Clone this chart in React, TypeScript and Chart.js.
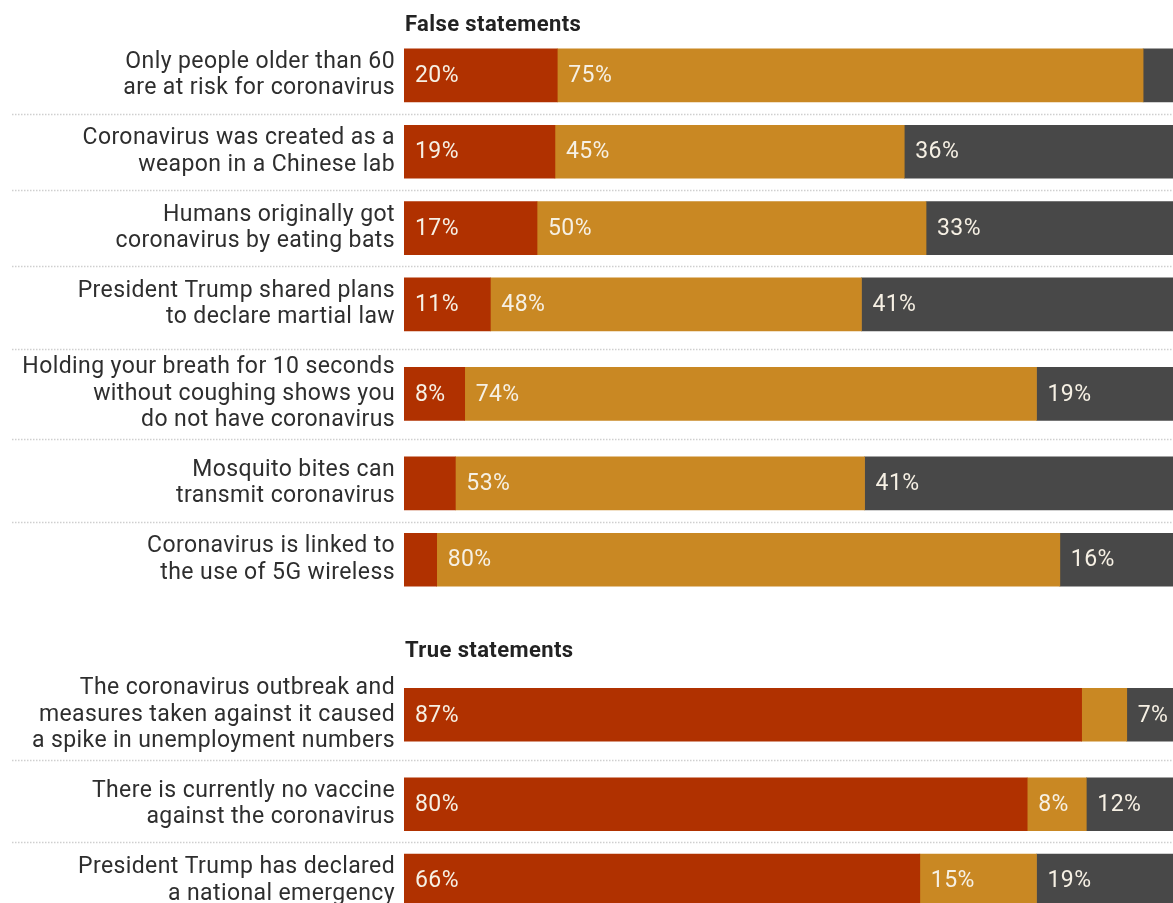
import React, { useEffect, useRef } from "react";
import { Chart, registerables } from "chart.js";

Chart.register(...registerables);

// ---- data ----
const sections = ["False statements", "True statements"];
const sectionOfRow = [0, 0, 0, 0, 0, 0, 0, 1, 1, 1];
const categories: string[][] = [
  ["Only people older than 60", "are at risk for coronavirus"],
  ["Coronavirus was created as a", "weapon in a Chinese lab"],
  ["Humans originally got", "coronavirus by eating bats"],
  ["President Trump shared plans", "to declare martial law"],
  ["Holding your breath for 10 seconds", "without coughing shows you", "do not have coronavirus"],
  ["Mosquito bites can", "transmit coronavirus"],
  ["Coronavirus is linked to", "the use of 5G wireless"],
  ["The coronavirus outbreak and", "measures taken against it caused", "a spike in unemployment numbers"],
  ["There is currently no vaccine", "against the coronavirus"],
  ["President Trump has declared", "a national emergency"],
];
const redValues = [19.7, 19.4, 17.1, 11.1, 7.8, 6.6, 4.2, 87.1, 80.1, 66.3];
const orangeValues = [75.3, 44.9, 50.0, 47.7, 73.5, 52.6, 80.1, 5.8, 7.6, 15.0];
const grayValues = [5.0, 35.7, 32.9, 41.2, 18.7, 40.8, 15.7, 7.1, 12.3, 18.7];
const seriesNames = ["Red", "Orange", "Gray"];
const labelThreshold = 7;

// ---- layout (derived from number of label lines) ----
const LINE_H = 26.33;
const SLOT_BASE = 23.67;
const HEADER_TO_SLOT = 12.25;
const SECTION_GAP = 53.3;
const FIRST_HEADER = 25;

function computeLayout() {
  const centers: number[] = [];
  const headers: number[] = [];
  let cursor = FIRST_HEADER;
  let y = 0;
  categories.forEach((lines, i) => {
    const sec = sectionOfRow[i];
    if (i === 0 || sec !== sectionOfRow[i - 1]) {
      if (i !== 0) cursor = y + SECTION_GAP;
      headers.push(cursor);
      y = cursor + HEADER_TO_SLOT;
    }
    const slot = SLOT_BASE + LINE_H * lines.length;
    centers.push(y + slot / 2);
    y += slot;
  });
  return { centers, headers };
}

const CANVAS_W = 1190;
const CANVAS_H = 950;
const LABEL_SIZE = 23;

export default function App() {
  const ref = useRef<HTMLCanvasElement | null>(null);
  useEffect(() => {
    if (!ref.current) return;
    const { centers, headers } = computeLayout();
    const colors = ["#b03100", "#c98823", "#484848"];
    const allValues = [redValues, orangeValues, grayValues];

    const overlay = {
      id: "overlay",
      beforeDraw(chart: any) {
        (chart.ctx as any).letterSpacing = "0.4px";
      },
      beforeDatasetsDraw(chart: any) {
        const ctx = chart.ctx;
        const yS = chart.scales.y;
        ctx.save();
        ctx.strokeStyle = "#cfcfcf";
        ctx.lineWidth = 1.5;
        ctx.setLineDash([1.5, 1.5]);
        for (let i = 1; i < centers.length; i++) {
          if (sectionOfRow[i] !== sectionOfRow[i - 1]) continue;
          const py = Math.round((yS.getPixelForValue(centers[i]) + yS.getPixelForValue(centers[i - 1])) / 2) + 0.5;
          ctx.beginPath();
          ctx.moveTo(12, py);
          ctx.lineTo(chart.width, py);
          ctx.stroke();
        }
        ctx.setLineDash([]);
        ctx.fillStyle = "#222";
        ctx.font = "bold 22px Roboto";
        ctx.textAlign = "left";
        ctx.textBaseline = "middle";
        sections.forEach((s, k) => {
          ctx.fillText(s, chart.chartArea.left + 1, yS.getPixelForValue(headers[k]));
        });
        ctx.restore();
      },
      afterDatasetsDraw(chart: any) {
        const ctx = chart.ctx;
        ctx.save();
        ctx.fillStyle = "#f6f0e4";
        ctx.font = "23px Roboto";
        ctx.textAlign = "left";
        ctx.textBaseline = "middle";
        chart.data.datasets.forEach((ds: any, di: number) => {
          const meta = chart.getDatasetMeta(di);
          meta.data.forEach((el: any, i: number) => {
            const v = allValues[di][i];
            if (v < labelThreshold) return;
            const start = Math.min(el.base, el.x);
            ctx.fillText(Math.round(v) + "%", start + 11, el.y + 1);
          });
        });
        ctx.restore();
      },
      afterDraw(chart: any) {
        (chart.ctx as any).letterSpacing = "0px";
      },
    };

    const chart = new Chart(ref.current, {
      type: "bar",
      data: {
        datasets: allValues.map((vals, di) => ({
          label: seriesNames[di],
          data: vals.map((v, i) => ({ x: v, y: centers[i] })),
          backgroundColor: colors[di],
          borderWidth: 0,
          barThickness: 53,
        })),
      },
      options: {
        indexAxis: "y",
        responsive: false,
        animation: false,
        layout: { padding: { left: 0, right: CANVAS_W - 1182, top: 0, bottom: 0 } },
        plugins: { legend: { display: false }, tooltip: { enabled: false } },
        scales: {
          x: { type: "linear", min: 0, max: 100, stacked: true, display: false },
          y: {
            type: "linear",
            min: 0,
            max: CANVAS_H,
            reverse: true,
            stacked: true,
            offset: false,
            grid: { display: false, drawTicks: false },
            border: { display: false },
            afterBuildTicks(scale: any) {
              scale.ticks = centers.map((c) => ({ value: c }));
            },
            afterFit(scale: any) {
              scale.width = 404;
              scale.paddingTop = 0;
              scale.paddingBottom = 0;
            },
            ticks: {
              autoSkip: false,
              padding: 9,
              color: "#2e2e2e",
              font: { family: "Roboto", size: LABEL_SIZE, lineHeight: LINE_H / LABEL_SIZE },
              callback: (value: any) => {
                const idx = centers.findIndex((c) => Math.abs(c - value) < 0.01);
                return idx >= 0 ? categories[idx] : "";
              },
            },
          },
        },
      } as any,
      plugins: [overlay],
    });
    return () => chart.destroy();
  }, []);

  return (
    <div style={{ position: "fixed", left: 0, top: 0, width: 1173, height: 903, overflow: "hidden", background: "#fff" }}>
      <canvas ref={ref} width={CANVAS_W} height={CANVAS_H} style={{ width: CANVAS_W, height: CANVAS_H, display: "block" }} />
    </div>
  );
}
